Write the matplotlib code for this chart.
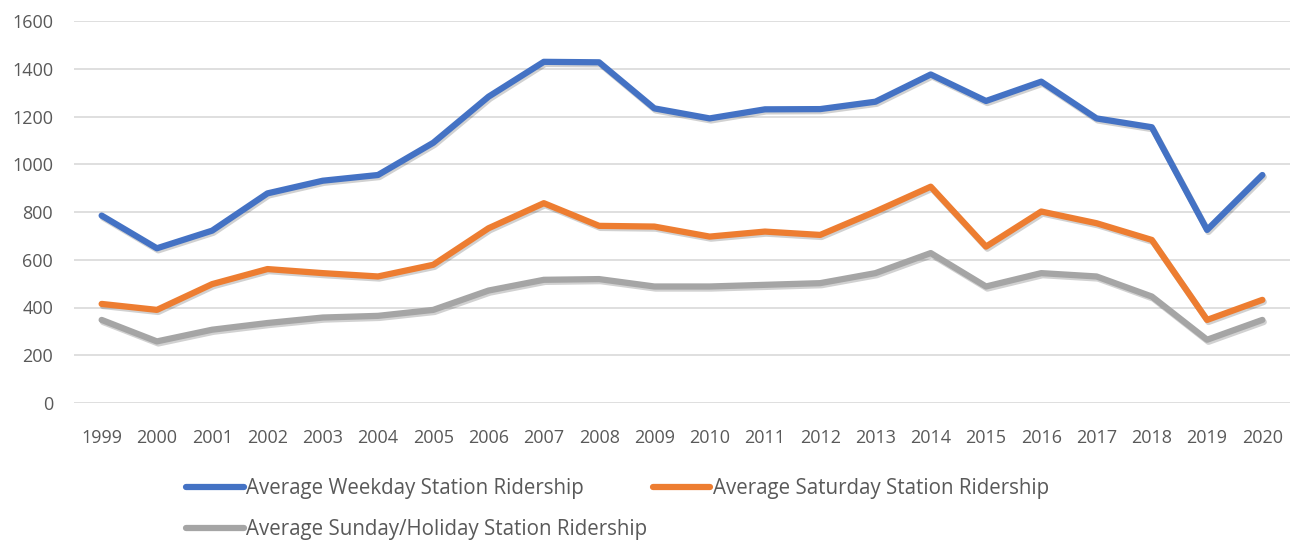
import matplotlib
matplotlib.use('Agg')
import matplotlib.pyplot as plt
import matplotlib.patheffects as pe

plt.rcParams['font.family'] = ['Open Sans', 'DejaVu Sans']

years = [str(y) for y in range(1999, 2021)]
weekday = [785, 648, 722, 878, 931, 955, 1090, 1283, 1429, 1427, 1234,
           1192, 1230, 1231, 1262, 1376, 1265, 1346, 1192, 1155, 725, 955]
saturday = [415, 390, 498, 561, 544, 530, 579, 732, 837, 742, 739,
            697, 718, 704, 802, 906, 655, 802, 753, 683, 348, 432]
sunday = [348, 258, 307, 335, 358, 365, 390, 471, 516, 519, 488,
          488, 495, 502, 544, 628, 488, 544, 530, 446, 265, 348]

text_col = '#595959'

fig = plt.figure(figsize=(13.02, 5.44), dpi=100)
ax = fig.add_axes([74 / 1302, 1 - 403 / 544, 1216 / 1302, 382 / 544])

shadow = [pe.SimpleLineShadow(offset=(1, -1.5), alpha=0.18), pe.Normal()]
x = range(len(years))
l1, = ax.plot(x, weekday, color='#4472C4', linewidth=4.5, label='Average Weekday Station Ridership',
              path_effects=shadow, solid_capstyle='round')
l2, = ax.plot(x, saturday, color='#ED7D31', linewidth=4.5, label='Average Saturday Station Ridership',
              path_effects=shadow, solid_capstyle='round')
l3, = ax.plot(x, sunday, color='#A5A5A5', linewidth=4.5, label='Average Sunday/Holiday Station Ridership',
              path_effects=shadow, solid_capstyle='round')

ax.set_xlim(-0.5, len(years) - 0.5)
ax.set_ylim(0, 1600)
ax.set_yticks(range(0, 1601, 200))
ax.set_xticks(list(x))
ax.set_xticklabels(years)
ax.grid(axis='y', color='#D9D9D9', linewidth=1.2)
ax.set_axisbelow(True)
for s in ax.spines.values():
    s.set_visible(False)
ax.tick_params(length=0, labelsize=13, colors=text_col)
ax.tick_params(axis='x', pad=19)
ax.tick_params(axis='y', pad=15)

leg = fig.legend([l1, l3, l2], [l1.get_label(), l3.get_label(), l2.get_label()],
                 ncol=2, loc='upper left', bbox_to_anchor=(178 / 1302, 1 - 470 / 544),
                 frameon=False, fontsize=14.8, handlelength=2.8, handletextpad=0.12,
                 columnspacing=0.25, labelspacing=0.95, borderaxespad=0)
for t in leg.get_texts():
    t.set_color(text_col)
for h in leg.legend_handles:
    h.set_path_effects([])
    h.set_solid_capstyle('round')

fig.savefig('out.png', dpi=100)
